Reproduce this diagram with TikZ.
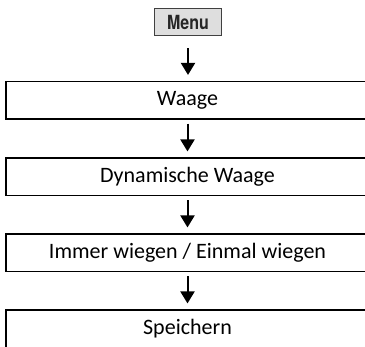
\documentclass[tikz,border=0pt]{standalone}
\usepackage{fontspec}
\setmainfont{Carlito}
\newfontfamily\menufont[FakeStretch=0.82]{TeX Gyre Heros}
\usetikzlibrary{positioning, arrows.meta}

\begin{document}
\begin{tikzpicture}[x=1pt, y=1pt, >={Triangle[length=12pt, width=14pt]},
                    menu key/.style={draw=black!75, fill=black!13, line width=1pt, minimum width=67pt, minimum height=27pt, inner sep=0pt, text=black!85, font=\menufont\bfseries\fontsize{19.5}{19.5}\selectfont},
                    menu step/.style={draw, line width=1.2pt, minimum width=363pt, minimum height=37.5pt, inner sep=0pt, font=\fontsize{22}{24}\selectfont},
                    flow arrow/.style={->, line width=2pt, shorten <=4pt, shorten >=6pt}]

    \useasboundingbox (0,0) rectangle (365,-347);

    \node[menu key]  (menu)    at (188, -22.5)  {Menu};
    \node[menu step] (waage)   at (187.5, -100.3) {Waage};
    \node[menu step] (dynamic) at (187.5, -176.8) {Dynamische Waage};
    \node[menu step] (weigh)   at (187.5, -252.8) {Immer wiegen / Einmal wiegen};
    \node[menu step] (save)    at (187.5, -328.8) {Speichern};

    % Pfeile zwischen den Schritten
    \draw[flow arrow, shorten <=12pt] (menu) -- (menu |- waage.north);
    \draw[flow arrow] (waage)   -- (dynamic);
    \draw[flow arrow] (dynamic) -- (weigh);
    \draw[flow arrow] (weigh)   -- (save);

\end{tikzpicture}
\end{document}
